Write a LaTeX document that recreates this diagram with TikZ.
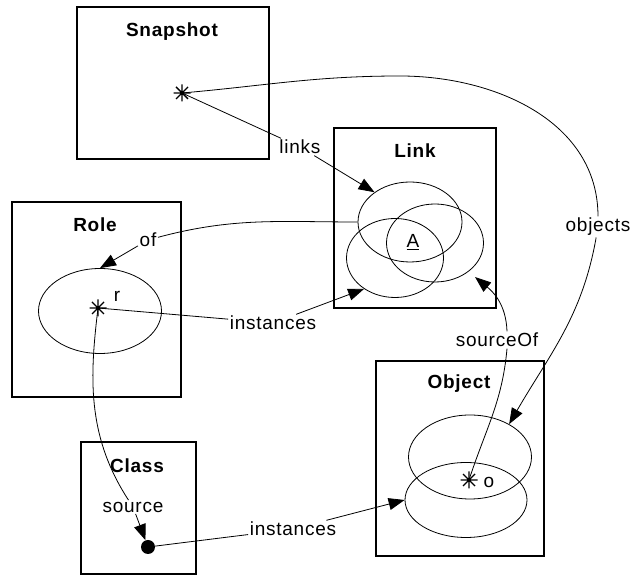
\documentclass[tikz,border=0pt]{standalone}
\usepackage{fontspec}
\setmainfont{Liberation Sans}[LetterSpace=4]
\usetikzlibrary{shapes.geometric,arrows.meta}
\begin{document}
\begin{tikzpicture}[x=1pt,y=1pt,
  box/.style={draw, line width=1.5pt, inner sep=0pt, outer sep=0pt},
  title/.style={font=\fontsize{19}{22}\selectfont\bfseries},
  lbl/.style={font=\fontsize{19}{22}\selectfont, inner sep=1.5pt},
  set/.style={draw, ellipse, line width=0.8pt, inner sep=0pt},
  conn/.style={line width=0.8pt},
  arr/.style={conn, -{Triangle[length=16pt,width=12pt]}},
  astk/.pic={\draw[line width=1.4pt] (-8.5,0)--(8.5,0) (0,-8.5)--(0,8.5) (-6,-6)--(6,6) (-6,6)--(6,-6);}
]
\useasboundingbox (0,0) rectangle (632,575);
% boxes
\node[box, minimum width=192pt, minimum height=152pt] (snap) at (173,492) {};
\node[box, minimum width=162pt, minimum height=180pt] (link) at (415,357) {};
\node[box, minimum width=169pt, minimum height=195pt] (role) at (96.5,275.5) {};
\node[box, minimum width=115pt, minimum height=132pt] (class) at (138.5,67) {};
\node[box, minimum width=168pt, minimum height=195pt] (object) at (460,116.5) {};
% titles
\node[title] (tsnap) at (172,543) {Snapshot};
\node[title] (tlink) at (415,424) {Link};
\node[title] (trole) at (95,350) {Role};
\node[title] (tclass) at (137,109) {Class};
\node[title] (tobject) at (459,191) {Object};
% sets
\node[set, minimum width=104pt, minimum height=80pt] (L1) at (410,353) {};
\node[set, minimum width=97pt, minimum height=78pt] (L2) at (435,332) {};
\node[set, minimum width=97pt, minimum height=79pt] (L3) at (395,317) {};
\node[set, minimum width=123pt, minimum height=85pt] (R1) at (100,264) {};
\node[set, minimum width=123pt, minimum height=84pt] (O1) at (470,118) {};
\node[set, minimum width=122pt, minimum height=75pt] (O2) at (466,75) {};
\node[lbl] (A) at (413,333) {\underline{A}};
% instances marks
\coordinate (snapA) at (182,482);
\coordinate (rA) at (98,267);
\coordinate (oA) at (469,95);
\pic at (snapA) {astk};
\pic at (rA) {astk};
\pic at (oA) {astk};
\node[lbl] (rl) at (117,279) {r};
\node[lbl] (ol) at (489,93) {o};
\node[circle, fill, inner sep=0pt, minimum size=14pt] (dot) at (148,28) {};
% connector labels
\node[lbl] (links) at (300,428) {links};
\node[lbl] (objects) at (598,348) {objects};
\node[lbl] (of) at (148,335) {of};
\node[lbl] (inst1) at (273,252) {instances};
\node[lbl] (sourceOf) at (497,235) {sourceOf};
\node[lbl] (source) at (133,68) {source};
\node[lbl] (inst2) at (293,46) {instances};
\coordinate (objTop) at (400,499);
\coordinate (srcTip) at (475,298);
% connectors
\draw[conn] (snapA) -- (links);
\draw[arr] (links) -- (L1.140);
\draw[conn] (snapA) to[out=5,in=180] (objTop) to[out=0,in=90] (objects);
\draw[arr] (objects) to[out=-100,in=60] (O1.40);
\draw[conn] (L1.west) to[out=180,in=15] (of);
\draw[arr] (of) -- (R1.north);
\draw[conn] (rA) -- (inst1);
\draw[arr] (inst1) -- (L3.225);
\draw[conn] (oA) to[out=72,in=-95] ([xshift=10pt]sourceOf.south);
\draw[arr] ([xshift=10pt]sourceOf.north) .. controls (506,272) and (492,284) .. (srcTip);
\draw[conn] (rA) .. controls (90,200) and (86,140) .. (source);
\draw[arr] (source) -- (dot);
\draw[conn] (dot) -- (inst2);
\draw[arr] (inst2) -- (O2.west);
\end{tikzpicture}
\end{document}
